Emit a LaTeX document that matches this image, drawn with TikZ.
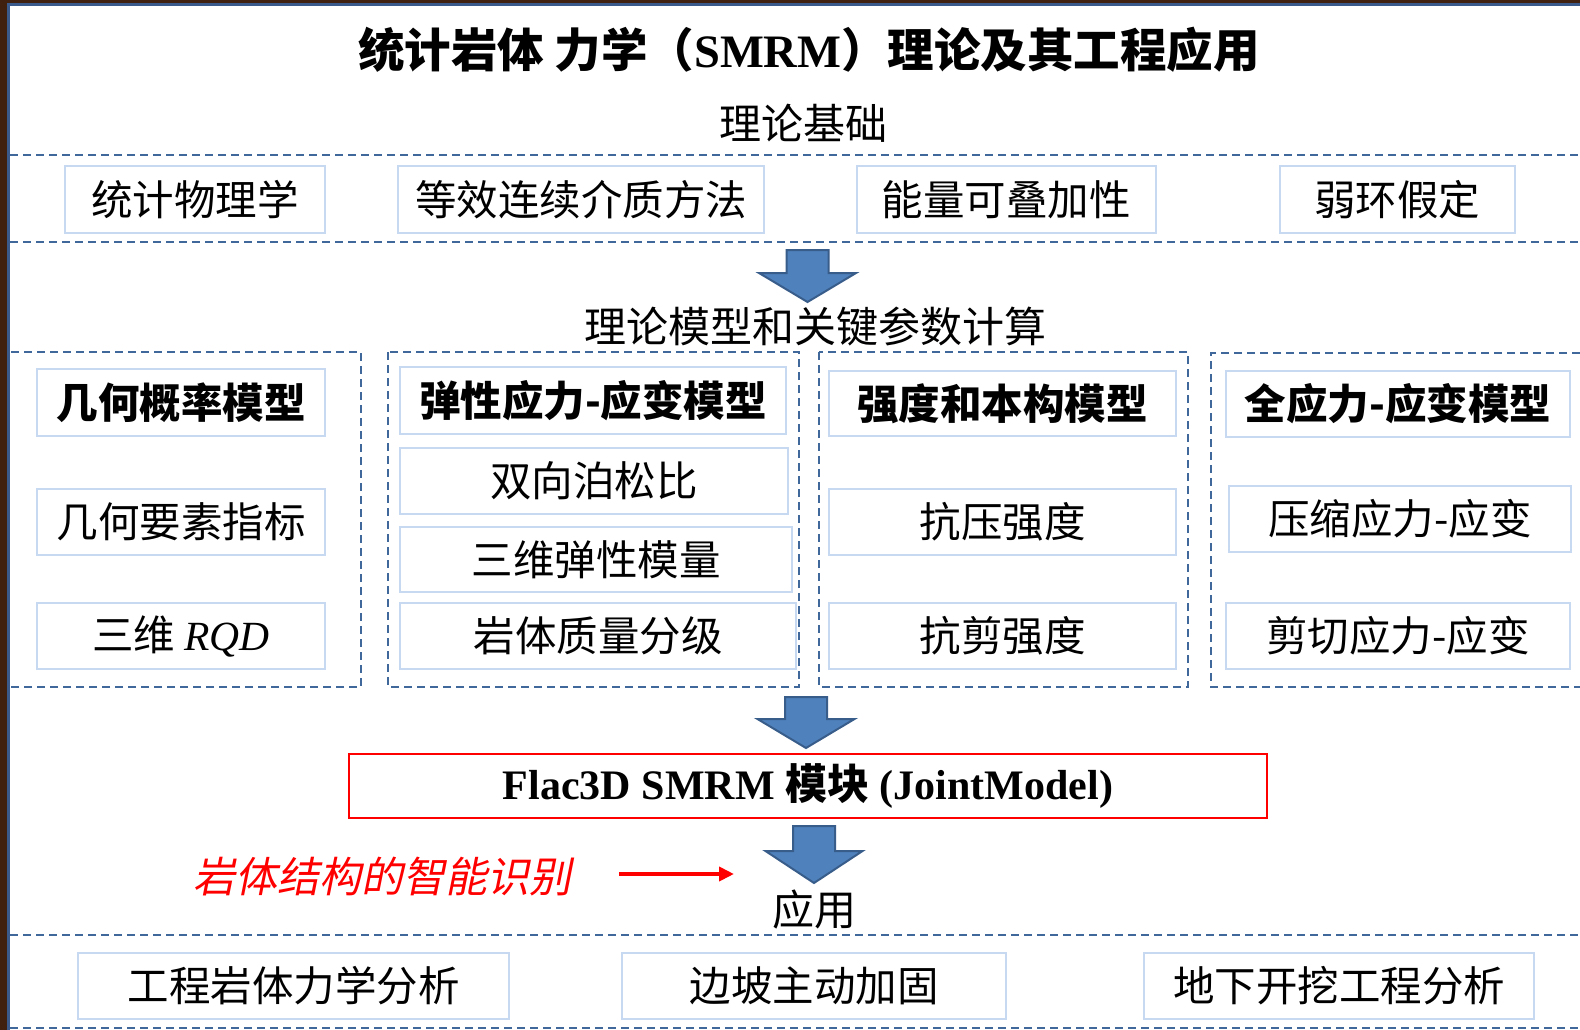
\documentclass[tikz,border=0pt]{standalone}
\usepackage{fontspec}
\setmainfont{Liberation Serif}
\newfontfamily\cjk{Noto Sans CJK SC}
\newfontfamily\cjkit[FakeSlant=0.2]{Noto Sans CJK SC}
\usetikzlibrary{arrows.meta}
\definecolor{framebrown}{HTML}{40200F}
\definecolor{frameblue}{HTML}{3B5A8C}
\definecolor{dashc}{HTML}{41689A}
\definecolor{boxc}{HTML}{C6D9F1}
\definecolor{arrowfill}{HTML}{4F81BD}
\definecolor{arrowline}{HTML}{385D8A}
\definecolor{redc}{HTML}{FF0000}
\newcommand{\blkarrow}[4]{%
  \draw[blockarrow] ({#1-21},#2) -- ({#1+21},#2) -- ({#1+21},#3) -- ({#1+48.5},#3) -- (#1,#4) -- ({#1-48.5},#3) -- ({#1-21},#3) -- cycle;}
\begin{document}
\begin{tikzpicture}[x=1pt,y=-1pt,
  sep/.style={draw=dashc, line width=2.2pt, dash pattern=on 8pt off 5pt},
  itembox/.style={draw=boxc, line width=2pt, fill=white, inner sep=0pt, font=\cjk\fontsize{41.5}{48}\selectfont},
  headbox/.style={itembox, font=\cjk\bfseries\fontsize{41.5}{48}\selectfont},
  seclabel/.style={inner sep=0pt, font=\cjk\fontsize{42}{48}\selectfont},
  blockarrow/.style={fill=arrowfill, draw=arrowline, line width=2pt, line join=miter},
]
\useasboundingbox (0,0) rectangle (1580,1030);
\fill[white] (0,0) rectangle (1580,1030);
% window frame
\fill[framebrown] (0,0) rectangle (7,1030);
\fill[framebrown] (0,0) rectangle (1580,3);
\draw[frameblue, line width=3pt] (8.5,1030) -- (8.5,4.8) -- (1580,4.8);

% title
\node[inner sep=0pt, font=\cjk\bfseries\fontsize{46.5}{54}\selectfont] (title) at (809,50)
  {统计岩体 力学（{\rmfamily\bfseries SMRM}）理论及其工程应用};

% section 1
\node[seclabel] (s1) at (803,123) {理论基础};
\draw[sep] (10,155) -- (1580,155);
\draw[sep] (10,242) -- (1580,242);
\node[itembox, minimum width=260pt, minimum height=67pt] (t1) at (195,199.5) {统计物理学};
\node[itembox, minimum width=366pt, minimum height=67pt] (t2) at (581,199.5) {等效连续介质方法};
\node[itembox, minimum width=299pt, minimum height=67pt] (t3) at (1006,199.5) {能量可叠加性};
\node[itembox, minimum width=235pt, minimum height=67pt] (t4) at (1397,199.5) {弱环假定};

\blkarrow{807.5}{250}{273}{302}

% section 2
\node[seclabel] (s2) at (815,327) {理论模型和关键参数计算};
\draw[sep] (11,352) -- (361,352) -- (361,687) -- (11,687);
\draw[sep] (388,352) rectangle (799,687);
\draw[sep] (819,352) rectangle (1188,687);
\draw[sep] (1580,353) -- (1211,353) -- (1211,687) -- (1580,687);

\node[headbox, minimum width=288pt, minimum height=67pt] (a1) at (181,402.5) {几何概率模型};
\node[itembox, minimum width=288pt, minimum height=66pt] (a2) at (181,522) {几何要素指标};
\node[itembox, minimum width=288pt, minimum height=66pt] (a3) at (181,636) {三维 {\rmfamily\itshape RQD}};

\node[headbox, minimum width=386pt, minimum height=67pt] (b1) at (593,400.5) {弹性应力-应变模型};
\node[itembox, minimum width=388pt, minimum height=66pt] (b2) at (594,481) {双向泊松比};
\node[itembox, minimum width=392pt, minimum height=65pt] (b3) at (596,559.5) {三维弹性模量};
\node[itembox, minimum width=396pt, minimum height=66pt] (b4) at (598,636) {岩体质量分级};

\node[headbox, minimum width=347pt, minimum height=65pt] (c1) at (1002.5,403.5) {强度和本构模型};
\node[itembox, minimum width=347pt, minimum height=66pt] (c2) at (1002.5,522) {抗压强度};
\node[itembox, minimum width=347pt, minimum height=66pt] (c3) at (1002.5,636) {抗剪强度};

\node[headbox, minimum width=344pt, minimum height=66pt] (d1) at (1398,404) {全应力-应变模型};
\node[itembox, minimum width=342pt, minimum height=66pt] (d2) at (1400,519) {压缩应力-应变};
\node[itembox, minimum width=344pt, minimum height=66pt] (d3) at (1398,636) {剪切应力-应变};

\blkarrow{806}{697}{719}{748}

% Flac3D module
\node[draw=redc, line width=2.5pt, inner sep=0pt, minimum width=918pt, minimum height=64pt,
  font=\rmfamily\bfseries\fontsize{42}{48}\selectfont] (flac) at (808,786)
  {Flac3D SMRM {\cjk\bfseries 模块} (JointModel)};

\blkarrow{814}{826}{851}{883}

% intelligent recognition
\node[inner sep=0pt, text=redc, font=\cjkit\fontsize{42}{48}\selectfont] (rtxt) at (382.5,877) {岩体结构的智能识别};
\coordinate (rs) at (619,874);
\coordinate (re) at (734,874);
\draw[draw=redc, line width=4pt, -{Triangle[length=15pt,width=14pt]}] (rs) -- (re);

% section 3
\node[seclabel] (s3) at (814,910) {应用};
\draw[sep] (10,935) -- (1580,935);
\draw[sep] (10,1028) -- (1580,1028);
\node[itembox, minimum width=431pt, minimum height=66pt] (e1) at (293.5,985.5) {工程岩体力学分析};
\node[itembox, minimum width=384pt, minimum height=66pt] (e2) at (814,985.5) {边坡主动加固};
\node[itembox, minimum width=390pt, minimum height=66pt] (e3) at (1339,985.5) {地下开挖工程分析};
\end{tikzpicture}
\end{document}
